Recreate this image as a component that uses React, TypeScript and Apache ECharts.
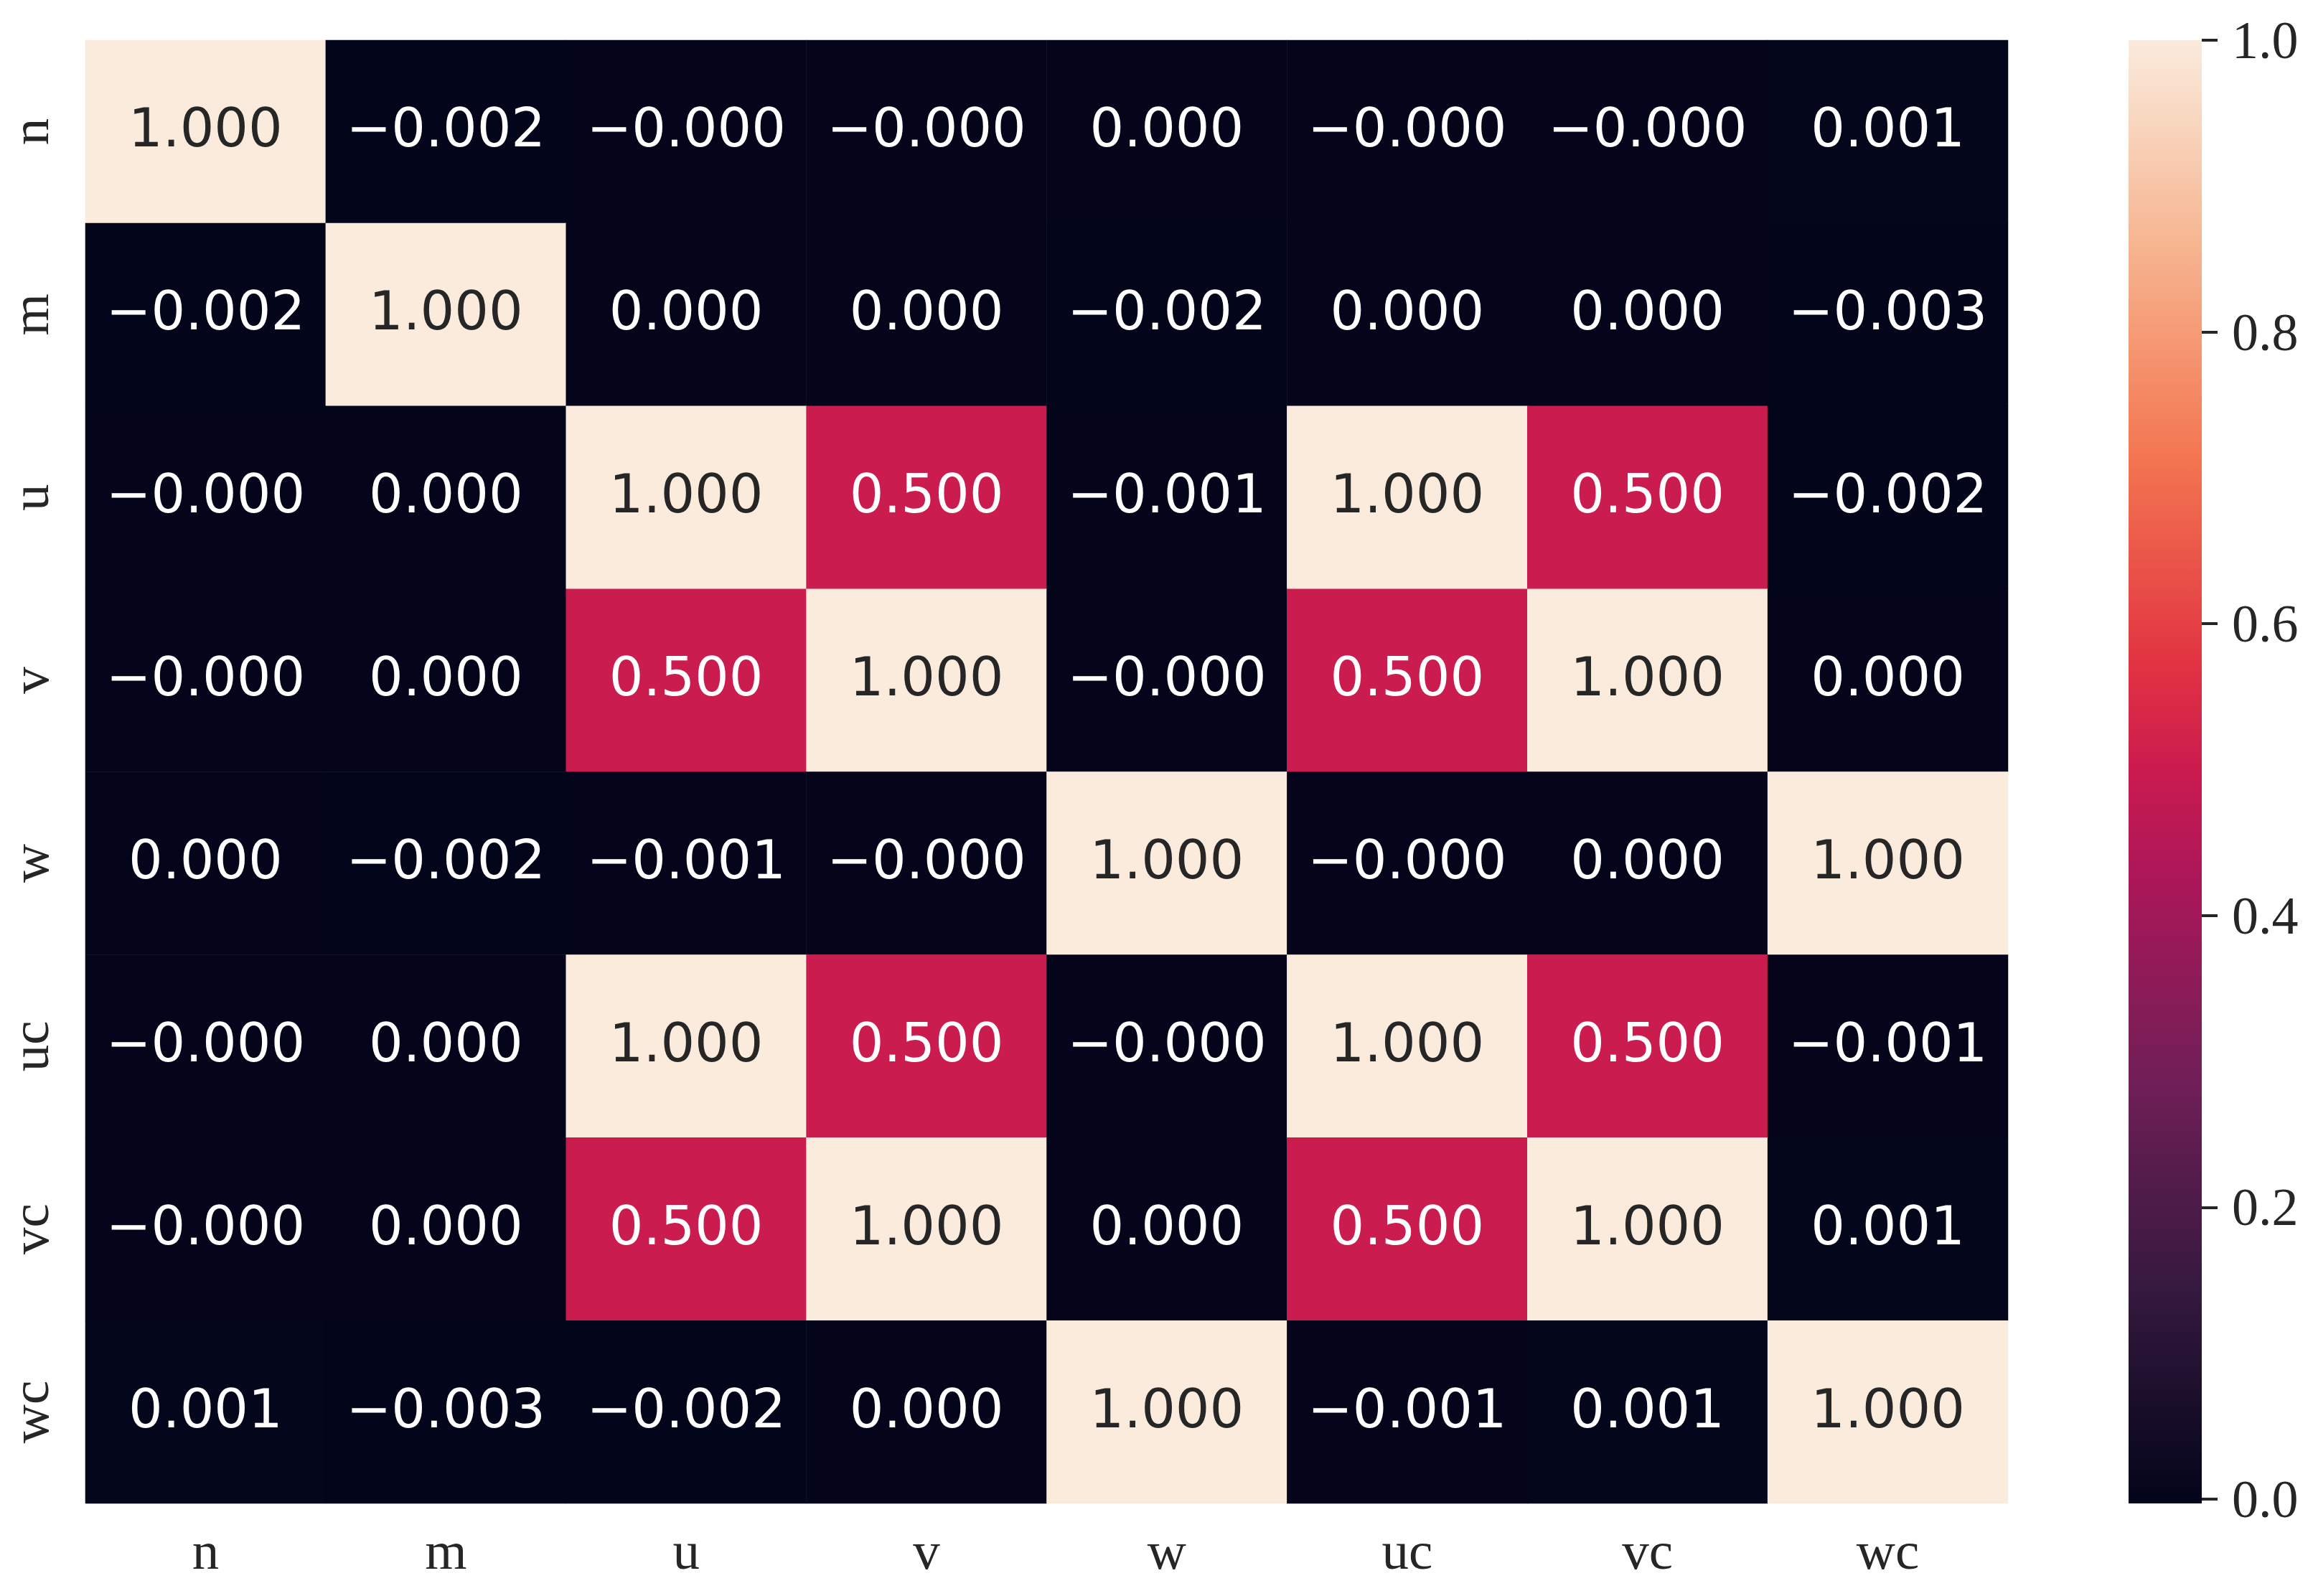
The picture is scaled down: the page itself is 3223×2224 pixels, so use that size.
import React, { useEffect, useRef } from "react";
import * as echarts from "echarts";

// ---- data ----
const colLabels = ["n", "m", "u", "v", "w", "uc", "vc", "wc"];
const rowLabels = ["n", "m", "u", "v", "w", "uc", "vc", "wc"];

const row_n = [1.0, -0.002, -0.0002, -0.0002, 0.0002, -0.0002, -0.0002, 0.001];
const row_m = [-0.002, 1.0, 0.0002, 0.0002, -0.002, 0.0002, 0.0002, -0.003];
const row_u = [-0.0002, 0.0002, 1.0, 0.5, -0.001, 1.0, 0.5, -0.002];
const row_v = [-0.0002, 0.0002, 0.5, 1.0, -0.0002, 0.5, 1.0, 0.0002];
const row_w = [0.0002, -0.002, -0.001, -0.0002, 1.0, -0.0002, 0.0002, 1.0];
const row_uc = [-0.0002, 0.0002, 1.0, 0.5, -0.0002, 1.0, 0.5, -0.001];
const row_vc = [-0.0002, 0.0002, 0.5, 1.0, 0.0002, 0.5, 1.0, 0.001];
const row_wc = [0.001, -0.003, -0.002, 0.0002, 1.0, -0.001, 0.001, 1.0];

const matrix = [row_n, row_m, row_u, row_v, row_w, row_uc, row_vc, row_wc];

const colorbarTicks = [0, 0.2, 0.4, 0.6, 0.8, 1.0];
const vMin = -0.003;
const vMax = 1.0;

// rocket colormap, evenly spaced stops (k/14)
const rocket = [
  "#03051a",
  "#1c0f2c",
  "#35193e",
  "#521c4a",
  "#701f57",
  "#8e1b58",
  "#ad1759",
  "#cb1b4f",
  "#e13342",
  "#ea5549",
  "#f37651",
  "#f59570",
  "#f6b48f",
  "#f8d0b6",
  "#faebdd",
];

const fmt = (v: number) => v.toFixed(3).replace("-", "\u2212");

export default function App() {
  const ref = useRef<HTMLDivElement>(null);

  useEffect(() => {
    document.body.style.margin = "0";
    if (!ref.current) return;
    const chart = echarts.init(ref.current, undefined, { renderer: "svg" });

    const heatData: any[] = [];
    matrix.forEach((row, yi) => {
      row.forEach((v, xi) => {
        heatData.push({
          value: [xi, yi, v],
          label: { color: v > 0.7 ? "#262626" : "#ffffff" },
        });
      });
    });

    const serif = "Liberation Serif";
    const gradStops = rocket
      .map((c, i) => ({ offset: 1 - i / (rocket.length - 1), color: c }))
      .reverse();

    const option: any = {
      animation: false,
      backgroundColor: "#ffffff",
      grid: [
        { left: 119, top: 56, width: 2679, height: 2039 },
        { left: 2966, top: 56, width: 102, height: 2039 },
      ],
      xAxis: [
        {
          gridIndex: 0,
          type: "category",
          data: colLabels,
          position: "bottom",
          axisLine: { show: false },
          axisTick: { show: false },
          splitLine: { show: false },
          axisLabel: {
            fontFamily: serif,
            fontSize: 75,
            color: "#262626",
            margin: 28,
          },
        },
        {
          gridIndex: 1,
          type: "category",
          data: ["cb"],
          show: false,
        },
      ],
      yAxis: [
        {
          gridIndex: 0,
          type: "category",
          data: rowLabels,
          inverse: true,
          axisLine: { show: false },
          axisTick: { show: false },
          splitLine: { show: false },
          axisLabel: {
            fontFamily: serif,
            fontSize: 75,
            color: "#262626",
            rotate: 90,
            margin: 40,
          },
        },
        {
          gridIndex: 1,
          type: "value",
          min: vMin,
          max: vMax,
          position: "right",
          axisLine: { show: false },
          splitLine: { show: false },
          axisTick: {
            show: true,
            length: 22,
            inside: false,
            lineStyle: { color: "#262626", width: 4 },
            customValues: colorbarTicks,
          },
          axisLabel: {
            fontFamily: serif,
            fontSize: 74,
            color: "#262626",
            margin: 42,
            customValues: colorbarTicks,
            formatter: (v: number) => v.toFixed(1),
          },
        },
      ],
      visualMap: {
        show: false,
        type: "continuous",
        min: vMin,
        max: vMax,
        dimension: 2,
        seriesIndex: 0,
        inRange: { color: rocket },
      },
      series: [
        {
          type: "heatmap",
          xAxisIndex: 0,
          yAxisIndex: 0,
          data: heatData,
          label: {
            show: true,
            fontFamily: "DejaVu Sans",
            fontSize: 75,
            offset: [0, -5],
            formatter: (p: any) => fmt(p.value[2]),
          },
          itemStyle: { borderWidth: 0 },
          emphasis: { disabled: true },
        },
        {
          type: "bar",
          xAxisIndex: 1,
          yAxisIndex: 1,
          stack: "cb",
          barWidth: "100%",
          data: [vMin],
          itemStyle: { color: rocket[0] },
          silent: true,
        },
        {
          type: "bar",
          xAxisIndex: 1,
          yAxisIndex: 1,
          stack: "cb",
          barWidth: "100%",
          data: [vMax],
          itemStyle: {
            color: new echarts.graphic.LinearGradient(0, 0, 0, 1, gradStops),
          },
          silent: true,
        },
      ],
    };

    chart.setOption(option);
    return () => chart.dispose();
  }, []);

  return <div ref={ref} style={{ width: 3223, height: 2224 }} />;
}
